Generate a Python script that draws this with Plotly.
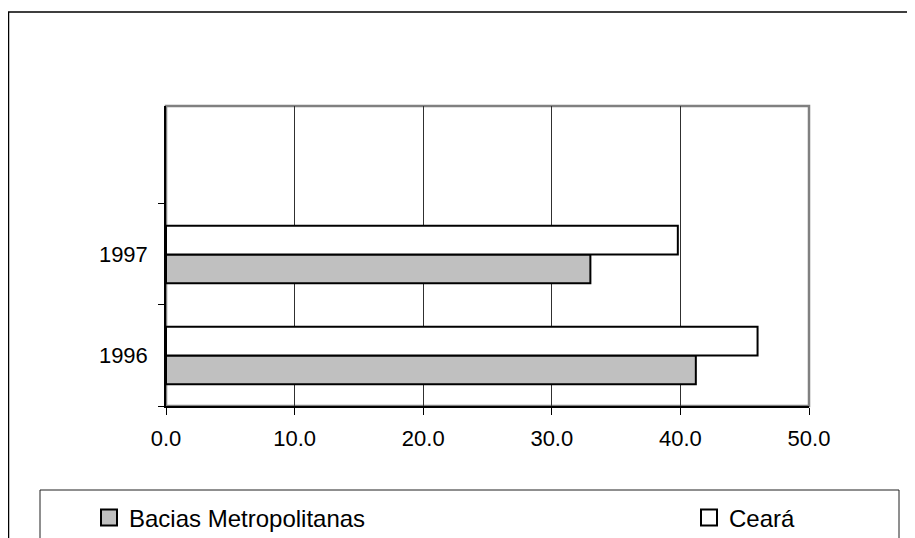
import plotly.graph_objects as go

# Data
years = ["1996", "1997"]
year_pos = [0, 1]
series_names = ["Bacias Metropolitanas", "Ceará"]
bacias = [41.2, 33.0]
ceara = [46.0, 39.8]
x_ticks = [0, 10, 20, 30, 40, 50]

# The page body has an 8px margin, so the figure is drawn 8px in from the
# top-left corner of the window; work in window pixels and offset by 8.
OFF = 8
W, H = 915 - OFF, 538 - OFF
L, R, T, B = 166 - OFF, 809 - OFF, 106 - OFF, 406 - OFF
pw, ph = R - L, B - T

def px_x(v):  # window px -> paper x
    return (v - OFF - L) / pw

def px_y(v):  # window px -> paper y
    return (B - (v - OFF)) / ph

font = "Liberation Sans, Arial, sans-serif"
FS = 22
LFS = 24
fills = ["#C0C0C0", "white"]

fig = go.Figure()
for name, vals, fill in zip(series_names, [bacias, ceara], fills):
    fig.add_trace(go.Bar(
        name=name, y=year_pos, x=vals, orientation="h",
        marker=dict(color=fill, line=dict(color="black", width=2)),
        showlegend=False,
    ))

# legend entries (larger square keys, as in the original legend)
for name, fill, lg in zip(series_names, fills, ["legend", "legend2"]):
    fig.add_trace(go.Scatter(
        name=name, x=[None], y=[None], mode="markers",
        marker=dict(symbol="square", size=16, color=fill,
                    line=dict(color="black", width=2)),
        legend=lg, showlegend=True, hoverinfo="skip",
    ))

legend_common = dict(
    orientation="h", xref="container", yref="container",
    xanchor="left", yanchor="middle", itemsizing="trace",
    font=dict(size=LFS, family=font, color="black"),
    bgcolor="rgba(0,0,0,0)", borderwidth=0,
)

fig.update_layout(
    width=W, height=H,
    margin=dict(l=L, r=W - R, t=T, b=H - B, pad=0, autoexpand=False),
    paper_bgcolor="white", plot_bgcolor="white",
    barmode="group", bargap=0.43, bargroupgap=0,
    font=dict(family=font, color="black"),
    showlegend=True,
    legend=dict(x=(89 - OFF) / W, y=1 - (518 - OFF) / H, **legend_common),
    legend2=dict(x=(689 - OFF) / W, y=1 - (518 - OFF) / H, **legend_common),
    xaxis=dict(
        range=[0, 50], tickvals=x_ticks, ticktext=[f"{v:.1f}" for v in x_ticks],
        ticks="outside", ticklen=7, tickcolor="black", tickwidth=1,
        showgrid=True, gridcolor="#303030", gridwidth=1,
        showline=True, linecolor="black", linewidth=1.5,
        zeroline=False, tickfont=dict(size=FS, family=font),
        ticklabelstandoff=5,
    ),
    yaxis=dict(
        range=[-0.5, 2.47], tickvals=year_pos, ticktext=years,
        ticks="", showgrid=False, zeroline=False,
        showline=True, linecolor="black", linewidth=1.5,
        tickfont=dict(size=FS, family=font), ticklabelstandoff=12,
        minor=dict(tickvals=[-0.5, 0.5, 1.5], ticks="outside", ticklen=6,
                   tickcolor="black", tickwidth=1, showgrid=False),
    ),
    shapes=[
        # plot area border (gray)
        dict(type="rect", xref="paper", yref="paper", x0=0, x1=1, y0=0, y1=1,
             line=dict(color="#808080", width=2.5), layer="below"),
        # outer chart border
        dict(type="rect", xref="paper", yref="paper",
             x0=px_x(8.5), x1=px_x(930), y0=px_y(560), y1=px_y(12),
             line=dict(color="black", width=1.5), layer="below"),
        # legend box
        dict(type="rect", xref="paper", yref="paper",
             x0=px_x(40), x1=px_x(899), y0=px_y(570), y1=px_y(490),
             line=dict(color="#202020", width=1), layer="below"),
    ],
)

fig.write_html("out.html")
